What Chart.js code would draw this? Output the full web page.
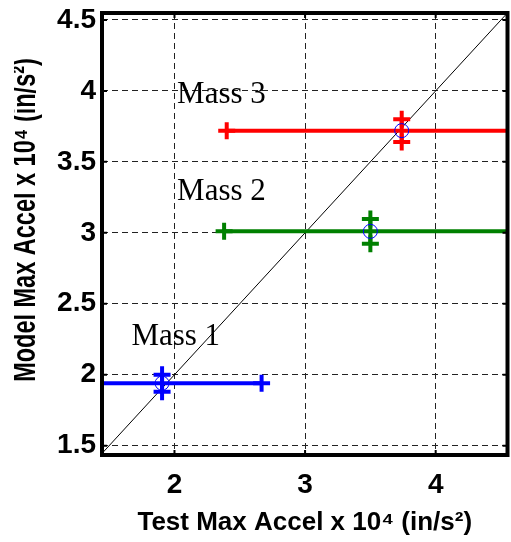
<!DOCTYPE html>
<html>
<head>
<meta charset="utf-8">
<script src="https://cdn.jsdelivr.net/npm/chart.js@4/dist/chart.umd.min.js"></script>
<style>
  html, body { margin: 0; padding: 0; background: #fff; overflow: hidden; }
  #wrap { position: relative; width: 520px; height: 542px; }
</style>
</head>
<body>
<div id="wrap"><canvas id="c"></canvas></div>
<script>
// --- data (x = test, y = model, units of 10^4 in/s^2) ---
const MASS_NAMES  = ["Mass 1", "Mass 2", "Mass 3"];
const TEST_ACCEL  = [1.905, 3.50, 3.74];
const MODEL_ACCEL = [1.94, 3.01, 3.72];
const TEST_ERR    = [0.762, 1.12, 1.34];   // half-width of horizontal bars
const MODEL_ERR   = [0.06, 0.088, 0.08];   // half-height of vertical bars
const LABEL_X     = [1.67, 2.02, 2.02];    // where the "Mass n" text starts
const LABEL_Y     = [2.21, 3.23, 3.915];
const X_TICKS     = [2, 3, 4];
const Y_TICKS     = [1.5, 2, 2.5, 3, 3.5, 4, 4.5];
const DIAG        = [1.4, 4.6];            // y = x reference line

const COLORS = ["#0000ff", "#008000", "#ff0000"];
const X_TITLE = "Test Max Accel x 10⁴ (in/s²)";
const Y_TITLE = "Model Max Accel x 10⁴ (in/s²)";
const SANS = "'Liberation Sans', Arial, sans-serif";

const datasets = [];
// blue circles on top
MASS_NAMES.forEach((n, i) => {
  datasets.push({
    label: n + " centre", data: [{ x: TEST_ACCEL[i], y: MODEL_ACCEL[i] }],
    showLine: false, pointStyle: "circle", pointRadius: 7,
    pointBorderColor: "#0000ff", pointBackgroundColor: "rgba(0,0,0,0)", pointBorderWidth: 1,
  });
});
MASS_NAMES.forEach((n, i) => {
  const bar = (pts) => ({
    label: n, data: pts, showLine: true, borderColor: COLORS[i], borderWidth: 4,
    pointStyle: "cross", pointRadius: 8.5, pointBorderWidth: 4,
    pointBorderColor: COLORS[i], pointBackgroundColor: COLORS[i],
  });
  datasets.push(bar([{ x: TEST_ACCEL[i], y: MODEL_ACCEL[i] - MODEL_ERR[i] },
                     { x: TEST_ACCEL[i], y: MODEL_ACCEL[i] + MODEL_ERR[i] }]));
  datasets.push(bar([{ x: TEST_ACCEL[i] - TEST_ERR[i], y: MODEL_ACCEL[i] },
                     { x: TEST_ACCEL[i] + TEST_ERR[i], y: MODEL_ACCEL[i] }]));
});
datasets.push({
  label: "y = x", data: DIAG.map((v) => ({ x: v, y: v })), showLine: true,
  borderColor: "#000", borderWidth: 1, pointRadius: 0,
});

// frame, inward tick marks, mass labels, clipped y title
const decor = {
  id: "decor",
  afterDraw(chart) {
    const { ctx, chartArea: a, scales: { x, y } } = chart;
    ctx.save();
    ctx.strokeStyle = "#000";
    ctx.lineWidth = 2;
    for (const v of X_TICKS) {
      const px = x.getPixelForValue(v);
      ctx.beginPath();
      ctx.moveTo(px, a.bottom); ctx.lineTo(px, a.bottom - 5);
      ctx.moveTo(px, a.top); ctx.lineTo(px, a.top + 5);
      ctx.stroke();
    }
    for (const v of Y_TICKS) {
      const py = y.getPixelForValue(v);
      ctx.beginPath();
      ctx.moveTo(a.left, py); ctx.lineTo(a.left + 5, py);
      ctx.moveTo(a.right, py); ctx.lineTo(a.right - 5, py);
      ctx.stroke();
    }
    ctx.lineWidth = 4;
    ctx.strokeRect(a.left, a.top, a.right - a.left, a.bottom - a.top);

    ctx.fillStyle = "#000";
    ctx.font = "31px 'Liberation Serif', 'Times New Roman', serif";
    ctx.textAlign = "left";
    ctx.textBaseline = "alphabetic";
    MASS_NAMES.forEach((n, i) => {
      ctx.fillText(n, x.getPixelForValue(LABEL_X[i]), y.getPixelForValue(LABEL_Y[i]));
    });

    // y title: its left part is cut off in the original
    ctx.beginPath();
    ctx.rect(14, 0, 60, chart.height);
    ctx.clip();
    ctx.translate(35, 220);
    ctx.scale(1.4, 1);
    ctx.rotate(-Math.PI / 2);
    ctx.font = "bold 23.5px " + SANS;
    ctx.textAlign = "center";
    ctx.fillText(Y_TITLE, 0, 0);
    ctx.restore();
  },
};

const noEndPad = (s) => { s.paddingTop = 0; s.paddingBottom = 0; s.paddingLeft = 0; s.paddingRight = 0; };

new Chart(document.getElementById("c"), {
  type: "scatter",
  data: { datasets },
  options: {
    responsive: true, maintainAspectRatio: false, animation: false,
    layout: { padding: { left: 0, top: 13, right: 8, bottom: 0 } },
    plugins: { legend: { display: false }, tooltip: { enabled: false } },
    scales: {
      x: {
        type: "linear", min: 1.445, max: 4.55,
        afterBuildTicks: (s) => { s.ticks = X_TICKS.map((v) => ({ value: v })); },
        afterFit: (s) => { s.height = 87; noEndPad(s); },
        grid: { color: "#222", lineWidth: 1, drawTicks: false },
        border: { display: false, dash: [6, 4] },
        ticks: { padding: 13, color: "#000", font: { family: SANS, size: 28, weight: "bold" },
          callback: (v) => String(v) },
        title: { display: true, text: X_TITLE, color: "#000",
          font: { family: SANS, size: 26, weight: "bold" }, padding: { top: 0, bottom: 4 } },
      },
      y: {
        type: "linear", min: 1.434, max: 4.549,
        afterBuildTicks: (s) => { s.ticks = Y_TICKS.map((v) => ({ value: v })); },
        afterFit: (s) => { s.width = 102; noEndPad(s); },
        grid: { color: "#222", lineWidth: 1, drawTicks: false },
        border: { display: false, dash: [6, 4] },
        ticks: { padding: 6, color: "#000", font: { family: SANS, size: 28, weight: "bold" },
          callback: (v) => String(v) },
      },
    },
  },
  plugins: [decor],
});
</script>
</body>
</html>
